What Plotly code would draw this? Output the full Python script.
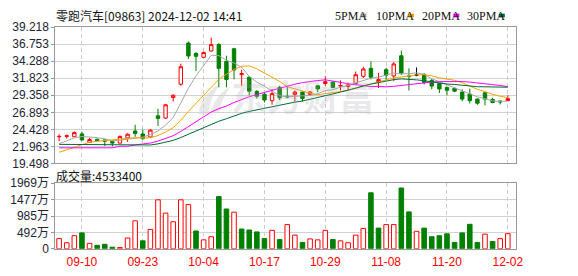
import plotly.graph_objects as go

# ---------------- data ----------------
dates = ["09-05", "09-06", "09-09", "09-10", "09-11", "09-12", "09-13", "09-16", "09-17", "09-19",
         "09-20", "09-23", "09-24", "09-25", "09-26", "09-27", "09-30", "10-02", "10-03", "10-04",
         "10-07", "10-08", "10-09", "10-10", "10-14", "10-15", "10-16", "10-17", "10-18", "10-21",
         "10-22", "10-23", "10-24", "10-25", "10-28", "10-29", "10-30", "10-31", "11-01", "11-04",
         "11-05", "11-06", "11-07", "11-08", "11-11", "11-12", "11-13", "11-14", "11-15", "11-18",
         "11-19", "11-20", "11-21", "11-22", "11-25", "11-26", "11-27", "11-28", "11-29", "12-02"]

opens = [23.35, 23.40, 23.35, 23.76, 22.53, 22.98, 22.89, 22.66, 22.43, 23.17,
         24.18, 23.76, 23.31, 26.38, 26.06, 29.04, 30.96, 36.93, 35.41, 34.86,
         35.78, 36.70, 34.27, 36.10, 32.34, 31.97, 29.91, 29.50, 28.58, 30.50,
         29.22, 29.50, 29.82, 29.50, 30.73, 31.06, 31.28, 30.69, 30.64, 31.06,
         32.11, 33.26, 31.33, 33.07, 32.16, 35.09, 32.16, 32.29, 32.38, 31.51,
         31.06, 30.50, 30.37, 29.82, 29.54, 28.81, 29.73, 28.76, 28.53, 28.58]
highs = [23.72, 23.67, 24.13, 24.08, 23.17, 23.08, 22.98, 22.80, 23.53, 23.85,
         25.09, 24.41, 24.45, 27.39, 28.12, 29.50, 33.94, 37.15, 35.64, 35.69,
         37.71, 36.93, 35.09, 36.24, 33.03, 32.11, 30.14, 29.68, 30.28, 30.73,
         30.73, 30.05, 29.96, 30.00, 30.82, 32.11, 31.42, 31.51, 31.19, 32.80,
         33.49, 34.27, 32.61, 33.35, 34.18, 35.83, 33.26, 33.40, 32.57, 31.79,
         31.15, 30.60, 30.46, 30.23, 30.32, 28.90, 29.82, 28.99, 28.58, 29.36]
lows = [22.71, 23.08, 23.35, 22.75, 22.53, 22.66, 22.02, 21.97, 22.39, 22.62,
        23.35, 22.94, 23.26, 24.91, 25.92, 28.44, 30.73, 34.63, 32.89, 34.77,
        35.69, 30.50, 30.50, 31.65, 30.73, 29.36, 28.90, 28.31, 27.98, 28.67,
        28.90, 28.44, 28.44, 29.31, 29.82, 30.73, 30.37, 30.05, 30.05, 30.96,
        31.88, 31.65, 30.41, 31.51, 31.42, 32.29, 30.05, 32.11, 30.92, 30.23,
        29.68, 29.36, 29.82, 28.49, 28.17, 27.98, 27.89, 28.21, 28.03, 28.58]
closes = [23.40, 23.49, 23.95, 22.89, 22.94, 22.80, 22.71, 22.43, 23.40, 23.72,
          23.81, 23.08, 24.31, 26.01, 27.98, 29.36, 33.49, 35.05, 35.00, 35.55,
          36.70, 33.26, 31.65, 33.03, 32.48, 29.96, 29.22, 28.67, 29.59, 28.99,
          29.13, 29.82, 28.90, 29.82, 30.28, 31.33, 30.50, 30.78, 30.87, 32.34,
          33.17, 31.97, 31.65, 32.25, 33.90, 32.57, 32.07, 32.29, 31.19, 30.69,
          30.28, 30.09, 29.96, 28.81, 28.58, 28.21, 28.81, 28.31, 28.40, 28.85]

# volume in 万 (10,000 shares)
volumes = [306, 182, 392, 478, 163, 105, 134, 48, 38, 325,
           841, 239, 583, 1472, 1071, 813, 1472, 1329, 535, 268,
           363, 1568, 1195, 1100, 593, 564, 507, 306, 554, 277,
           727, 411, 191, 296, 268, 554, 277, 239, 182, 411,
           612, 1683, 621, 727, 727, 1826, 1109, 526, 621, 363,
           392, 449, 191, 478, 736, 191, 440, 220, 306, 453.34]

# moving-average values before enough in-window closes exist
ma5_head = [22.34, 22.80, 23.17, 23.40]
ma10_head = [21.10, 21.45, 21.85, 22.15, 22.55, 22.70, 22.80, 22.90, 23.00]
ma20_head = [21.75, 21.75, 21.75, 21.75, 21.75, 21.75, 21.75, 21.75, 21.97, 21.97,
             22.16, 22.25, 22.44, 22.72, 23.08, 23.50, 24.12, 24.80, 25.50]
ma30_head = [22.25, 22.25, 22.25, 22.25, 22.25, 22.16, 22.16, 22.16, 22.16, 22.16,
             22.16, 22.16, 22.16, 22.32, 22.56, 22.82, 23.24, 23.71, 24.18, 24.67,
             25.19, 25.60, 25.96, 26.36, 26.74, 27.02, 27.26, 27.48, 27.73]

price_ticks = [19.498, 21.963, 24.428, 26.893, 29.358, 31.823, 34.288, 36.753, 39.218]
vol_ticks = [0, 492.25, 984.5, 1476.75, 1969]
vol_tick_text = ["0", "492万", "985万", "1477万", "1969万"]
label_dates = ["09-10", "09-23", "10-04", "10-17", "10-29", "11-08", "11-20", "12-02"]

title_text = "零跑汽车[09863] 2024-12-02 14:41"
volume_title = "成交量:4533400"
watermark = "东方财富"
ma_names = ["5PMA", "10PMA", "20PMA", "30PMA"]
ma_colors = ["#a6a6a6", "#f5a200", "#ff00ff", "#006b36"]

# ---------------- helpers ----------------
W, H = 578, 276
def px(x):
    return x / W
def py(y):
    return 1 - y / H

def moving_avg(vals, w, head):
    return head + [sum(vals[i - w + 1:i + 1]) / w for i in range(len(head), len(vals))]

n = len(dates)
xs = list(range(n))
label_idx = [dates.index(d) for d in label_dates]

RED = "#ff0000"
GREEN = "#008000"

fig = go.Figure()

# candles
live = n - 1
doji = [i for i in xs if opens[i] == closes[i] and i != live]
normal = [i for i in xs if i not in doji and i != live]

def sub(arr, idx):
    return [arr[i] for i in idx]

def candle(idx, inc_line, inc_fill, dec_line, dec_fill):
    return go.Candlestick(
        x=idx, open=sub(opens, idx), high=sub(highs, idx), low=sub(lows, idx), close=sub(closes, idx),
        increasing=dict(line=dict(color=inc_line, width=1), fillcolor=inc_fill),
        decreasing=dict(line=dict(color=dec_line, width=1), fillcolor=dec_fill),
        whiskerwidth=0, xaxis="x", yaxis="y", hoverinfo="skip", showlegend=False)

fig.add_trace(candle(normal, RED, "#ffffff", GREEN, GREEN))
if doji:
    fig.add_trace(candle(doji, "#000000", "#000000", "#000000", "#000000"))
fig.add_trace(candle([live], RED, RED, GREEN, GREEN))

# moving averages
mas = [moving_avg(closes, 5, ma5_head), moving_avg(closes, 10, ma10_head),
       moving_avg(closes, 20, ma20_head), moving_avg(closes, 30, ma30_head)]
for vals, col, name in zip(mas, ma_colors, ma_names):
    fig.add_trace(go.Scatter(x=xs, y=vals, mode="lines", line=dict(color=col, width=1),
                             name=name, xaxis="x", yaxis="y", hoverinfo="skip", showlegend=False))

# volume
up = [True] + [closes[i] >= closes[i - 1] for i in range(1, n)]
fig.add_trace(go.Bar(
    x=xs, y=volumes, width=0.6,
    marker=dict(color=["#ffffff" if u else GREEN for u in up],
                line=dict(color=[RED if u else GREEN for u in up], width=1)),
    xaxis="x2", yaxis="y2", hoverinfo="skip", showlegend=False))

# ---------------- layout ----------------
x_dom = [px(56), px(522.5)]
x_range = [-0.5, 60.1]
axis_font = dict(family="Liberation Sans, Arial, sans-serif", size=12, color="#1b2433")
grid_v = dict(showgrid=True, gridcolor="#cccccc", griddash="4px,3px", gridwidth=1)

fig.update_layout(
    width=W, height=H, margin=dict(l=0, r=0, t=0, b=0),
    paper_bgcolor="#ffffff", plot_bgcolor="rgba(0,0,0,0)",
    showlegend=False, boxgap=0.36,
    xaxis=dict(domain=x_dom, range=x_range, anchor="y", tickvals=label_idx, showticklabels=False,
               ticks="", showline=True, mirror=True, linecolor="#999999", linewidth=1,
               zeroline=False, rangeslider=dict(visible=False), fixedrange=True, **grid_v),
    yaxis=dict(domain=[py(164.7), py(21.3)], range=[price_ticks[0], price_ticks[-1]],
               tickvals=price_ticks, ticktext=["%.3f" % v for v in price_ticks],
               tickfont=axis_font, ticks="outside", ticklen=3, tickcolor="#999999",
               showgrid=True, gridcolor="#d2d2d2", gridwidth=1, zeroline=False,
               showline=True, mirror=True, linecolor="#999999", linewidth=1, fixedrange=True),
    xaxis2=dict(domain=x_dom, range=x_range, anchor="y2", tickvals=label_idx, ticktext=label_dates,
                tickfont=dict(family="Liberation Sans, Arial, sans-serif", size=12, color="#ff0000"),
                ticks="outside", ticklen=2, tickcolor="rgba(0,0,0,0)",
                showline=True, mirror=True, linecolor="#999999", linewidth=1, zeroline=False,
                fixedrange=True, **grid_v),
    yaxis2=dict(domain=[py(254.7), py(185.7)], range=[0, 1969], tickvals=vol_ticks, ticktext=vol_tick_text,
                tickfont=dict(family="Liberation Sans, Noto Sans CJK SC, sans-serif", size=12, color="#1b2433"),
                ticks="outside", ticklen=3, tickcolor="#999999",
                showgrid=True, gridcolor="#d2d2d2", gridwidth=1, zeroline=False,
                showline=True, mirror=True, linecolor="#999999", linewidth=1, fixedrange=True),
)

annos = []
annos.append(dict(text=title_text, x=px(55), y=py(9), xref="paper", yref="paper",
                  xanchor="left", yanchor="middle", showarrow=False,
                  font=dict(family="Noto Sans CJK SC, sans-serif", size=12, color="#111111")))
annos.append(dict(text=volume_title, x=px(55), y=py(177), xref="paper", yref="paper",
                  xanchor="left", yanchor="middle", showarrow=False,
                  font=dict(family="Noto Sans CJK SC, sans-serif", size=12, color="#111111")))
annos.append(dict(text=watermark, x=px(307), y=py(93), xref="paper", yref="paper",
                  xanchor="center", yanchor="middle", showarrow=False,
                  font=dict(family="Noto Sans CJK SC, sans-serif", size=36, color="rgba(170,170,175,0.26)",
                            weight="bold")))

legend_x = [338, 380, 426, 472]
square_x = [365, 413, 459, 505]
shapes = []
for name, col, lx, sx in zip(ma_names, ma_colors, legend_x, square_x):
    annos.append(dict(text=name, x=px(lx - 1), y=py(9), xref="paper", yref="paper",
                      xanchor="left", yanchor="middle", showarrow=False,
                      font=dict(family="Liberation Serif, serif", size=12, color="#111111")))
    shapes.append(dict(type="rect", xref="paper", yref="paper", x0=px(sx), x1=px(sx + 6),
                       y0=py(11), y1=py(7), fillcolor=col, line=dict(width=0)))

# faint watermark logo (leaf shape) behind the data
def path(points):
    segs = []
    for cmd, pts in points:
        segs.append(cmd + " " + " ".join("%.5f,%.5f" % (px(a), py(b)) for a, b in pts))
    return " ".join(segs) + " Z"

logo1 = path([("M", [(201, 113)]), ("Q", [(203, 92), (224, 80)]), ("Q", [(212, 95), (211, 113)])])
logo2 = path([("M", [(214, 112)]), ("Q", [(216, 94), (233, 84)]), ("Q", [(224, 98), (222, 110)])])
for p in (logo1, logo2):
    shapes.append(dict(type="path", path=p, xref="paper", yref="paper", layer="below",
                       fillcolor="#e8e8e8", line=dict(width=0)))

fig.update_layout(annotations=annos, shapes=shapes)

fig.write_html("out.html")
